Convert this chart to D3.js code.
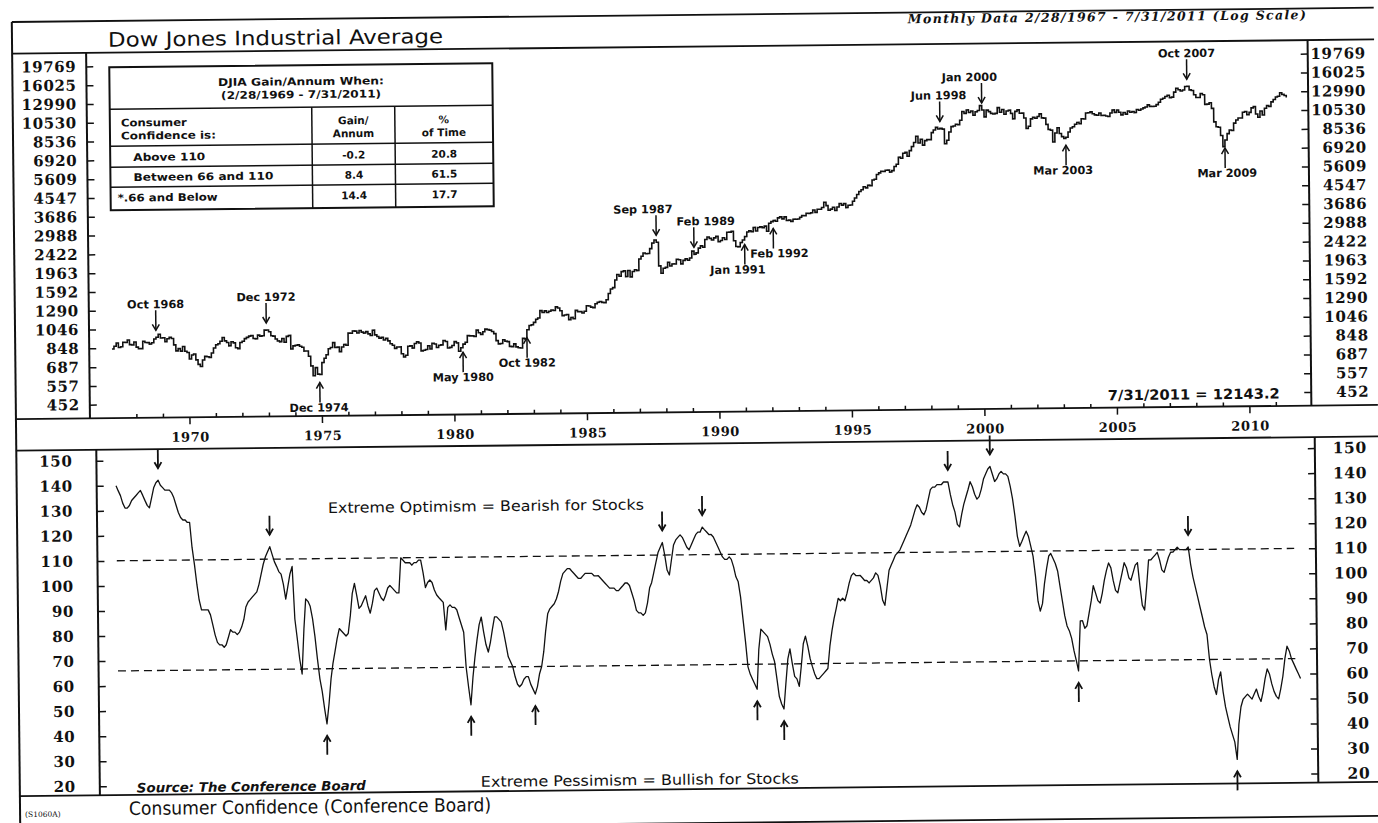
<!DOCTYPE html>
<html>
<head>
<meta charset="utf-8">
<title>Dow Jones Industrial Average vs Consumer Confidence</title>
<script src="https://cdn.jsdelivr.net/npm/d3@7/dist/d3.min.js"></script>
<style>
  body { margin: 0; background: #fff; }
  svg { display: block; }
</style>
</head>
<body>
<svg id="chart" width="1378" height="823"></svg>
<script>
// ---- data: monthly values, Feb 1967 .. Jul 2011 ----
const firstMonth = new Date(1967, 1, 1);

const djiaClose = [
  839, 865, 897, 853, 860, 904, 901, 927, 880, 876, 905,                 // 1967 (Feb-Dec)
  855, 840, 840, 912, 899, 898, 883, 896, 935, 952, 985, 944,            // 1968
  946, 905, 936, 950, 937, 873, 816, 837, 813, 856, 812, 800,            // 1969
  744, 778, 786, 736, 700, 684, 735, 765, 761, 756, 794, 839,            // 1970
  869, 879, 904, 942, 908, 891, 858, 898, 887, 839, 831, 890,            // 1971
  902, 928, 941, 954, 961, 929, 925, 964, 953, 956, 1018, 1020,          // 1972
  999, 955, 951, 921, 901, 892, 926, 888, 947, 957, 822, 851,            // 1973
  856, 860, 847, 837, 802, 802, 757, 679, 608, 666, 619, 616,            // 1974
  704, 739, 768, 821, 832, 879, 832, 835, 794, 836, 860, 852,            // 1975
  975, 973, 999, 997, 975, 1003, 985, 974, 990, 965, 947, 1005,          // 1976
  954, 936, 919, 926, 899, 916, 890, 862, 847, 818, 830, 831,            // 1977
  770, 742, 757, 837, 840, 819, 862, 877, 866, 793, 799, 805,            // 1978
  839, 809, 862, 855, 822, 842, 846, 888, 878, 816, 822, 839,            // 1979
  876, 863, 786, 817, 851, 868, 935, 933, 932, 925, 993, 964,            // 1980
  947, 975, 1004, 998, 992, 977, 953, 882, 850, 853, 889, 875,           // 1981
  871, 825, 823, 848, 820, 812, 809, 901, 896, 992, 1039, 1047,          // 1982
  1076, 1113, 1130, 1226, 1200, 1222, 1199, 1216, 1233, 1225, 1276, 1259, // 1983
  1221, 1155, 1165, 1171, 1105, 1132, 1115, 1224, 1207, 1207, 1189, 1212, // 1984
  1287, 1284, 1267, 1258, 1315, 1336, 1348, 1334, 1329, 1374, 1472, 1547, // 1985
  1571, 1710, 1819, 1784, 1877, 1893, 1775, 1898, 1768, 1878, 1914, 1896, // 1986
  2158, 2224, 2305, 2286, 2292, 2419, 2572, 2663, 2596, 1994, 1834, 1939, // 1987
  1958, 2072, 1988, 2033, 2031, 2142, 2129, 2032, 2113, 2149, 2115, 2169, // 1988
  2342, 2258, 2294, 2419, 2480, 2440, 2661, 2737, 2693, 2645, 2706, 2753, // 1989
  2591, 2627, 2707, 2657, 2877, 2881, 2905, 2615, 2453, 2442, 2560, 2634, // 1990
  2736, 2882, 2914, 2888, 3028, 2907, 3025, 3044, 3017, 3069, 2895, 3169, // 1991
  3224, 3267, 3236, 3359, 3397, 3319, 3394, 3257, 3272, 3226, 3305, 3301, // 1992
  3310, 3371, 3435, 3428, 3527, 3516, 3540, 3651, 3555, 3681, 3684, 3754, // 1993
  3978, 3832, 3636, 3682, 3758, 3625, 3765, 3913, 3843, 3908, 3739, 3834, // 1994
  3844, 4011, 4158, 4321, 4465, 4556, 4709, 4647, 4789, 4756, 5075, 5117, // 1995
  5395, 5486, 5588, 5569, 5643, 5655, 5529, 5616, 5882, 6029, 6522, 6448, // 1996
  6813, 6878, 6584, 7009, 7331, 7673, 8223, 7622, 7945, 7442, 7823, 7908, // 1997
  7907, 8546, 8800, 9063, 8900, 8952, 8883, 7539, 7843, 8592, 9117, 9181, // 1998
  9359, 9307, 9786, 10789, 10560, 10971, 10655, 10829, 10337, 10729, 10878, 11497, // 1999
  10941, 10128, 10922, 10734, 10522, 10448, 10522, 11215, 10651, 10971, 10415, 10787, // 2000
  10887, 10495, 9879, 10735, 10912, 10502, 10523, 9950, 8848, 9075, 9852, 10022, // 2001
  9920, 10106, 10404, 9946, 9925, 9243, 8737, 8664, 7592, 8397, 8896, 8342,  // 2002
  8054, 7891, 7992, 8480, 8850, 8985, 9234, 9416, 9275, 9801, 9782, 10454,   // 2003
  10488, 10584, 10358, 10226, 10188, 10435, 10140, 10174, 10080, 10027, 10428, 10783, // 2004
  10490, 10766, 10504, 10193, 10467, 10275, 10641, 10482, 10569, 10440, 10806, 10718, // 2005
  10865, 10993, 11109, 11367, 11168, 11150, 11186, 11381, 11679, 12081, 12222, 12463, // 2006
  12622, 12269, 12354, 13063, 13628, 13409, 13212, 13358, 13896, 13930, 13372, 13265, // 2007
  12650, 12266, 12263, 12820, 12638, 11350, 11378, 11544, 10851, 9325, 8829, 8776,   // 2008
  8001, 7063, 7609, 8168, 8500, 8447, 9172, 9496, 9712, 9713, 10345, 10428,  // 2009
  10067, 10325, 10857, 11009, 10137, 9774, 10466, 10015, 10788, 11118, 11006, 11578, // 2010
  11892, 12226, 12320, 12811, 12570, 12414, 12143                          // 2011 (Jan-Jul)
];

const confidence = [
  140, 138, 136, 133, 131, 131, 132, 134, 135, 136, 137,      // 1967 (Feb-Dec)
  138, 136, 134, 132, 131, 135, 139, 141, 142, 140, 139, 138, // 1968
  138, 138, 137, 135, 132, 129, 127, 126, 126, 125, 125, 115, // 1969
  108, 100, 94, 90, 90, 90, 90, 88, 84, 80, 77, 76,           // 1970
  76, 75, 76, 79, 82, 81, 81, 80, 81, 83, 86, 91,             // 1971
  93, 94, 95, 96, 97, 100, 104, 108, 111, 113, 115, 112,      // 1972
  109, 107, 105, 104, 100, 94, 99, 104, 107, 86, 78, 70,      // 1973
  64, 82, 94, 93, 91, 86, 79, 70, 62, 57, 50, 44,             // 1974
  52, 62, 68, 73, 78, 82, 81, 80, 79, 80, 87, 96,             // 1975
  100, 95, 90, 91, 93, 95, 91, 88, 92, 97, 98, 96,            // 1976
  94, 93, 95, 98, 99, 98, 97, 96, 96, 110, 109, 108,          // 1977
  108, 108, 107, 108, 108, 109, 109, 104, 98, 100, 101, 100,  // 1978
  97, 95, 94, 93, 92, 81, 90, 91, 90, 90, 89, 86,             // 1979
  83, 80, 66, 58, 51, 62, 70, 77, 83, 86, 80, 75,             // 1980
  72, 76, 81, 86, 86, 85, 84, 80, 75, 70, 68, 66,             // 1981
  62, 59, 58, 59, 61, 62, 62, 59, 57, 55, 58, 63,             // 1982
  66, 72, 80, 87, 89, 90, 91, 93, 96, 100, 103, 104,          // 1983
  105, 105, 104, 103, 102, 101, 101, 102, 103, 103, 103, 103, // 1984
  102, 102, 102, 101, 100, 99, 98, 97, 97, 97, 96, 96,        // 1985
  97, 98, 99, 99, 98, 95, 92, 88, 87, 87, 86, 87,             // 1986
  91, 97, 99, 103, 107, 111, 113, 115, 110, 104, 102, 108,    // 1987
  114, 116, 117, 118, 117, 115, 113, 112, 114, 116, 118, 119, // 1988
  119, 121, 120, 119, 118, 118, 117, 115, 113, 111, 109, 108, // 1989
  108, 109, 108, 105, 101, 99, 93, 84, 75, 65, 62, 60,        // 1990
  58, 56, 72, 80, 79, 78, 77, 74, 70, 67, 60, 53,             // 1991
  50, 48, 58, 68, 72, 66, 61, 60, 57, 65, 74, 77,             // 1992
  73, 68, 65, 62, 60, 60, 61, 62, 63, 64, 73, 79,             // 1993
  84, 88, 92, 91, 92, 91, 94, 98, 101, 102, 101, 101,         // 1994
  101, 100, 99, 99, 98, 99, 100, 102, 101, 97, 91, 89,        // 1995
  96, 103, 105, 107, 109, 110, 111, 113, 115, 117, 119, 121,  // 1996
  124, 127, 129, 128, 126, 125, 127, 131, 135, 136, 136, 137, // 1997
  137, 137, 138, 138, 138, 133, 129, 126, 121, 120, 125, 129, // 1998
  132, 135, 138, 136, 133, 131, 132, 135, 139, 141, 143, 144, // 1999
  141, 138, 139, 141, 142, 141, 141, 140, 136, 131, 124, 116, // 2000
  112, 114, 116, 118, 116, 112, 108, 100, 90, 86, 89, 97,     // 2001
  103, 108, 109, 107, 105, 102, 96, 90, 84, 80, 78, 75,       // 2002
  70, 66, 62, 82, 82, 79, 80, 85, 90, 96, 93, 90,             // 2003
  89, 93, 98, 102, 105, 103, 98, 94, 93, 97, 101, 105,        // 2004
  103, 99, 98, 101, 104, 105, 96, 88, 86, 95, 106, 106,       // 2005
  107, 108, 109, 106, 102, 101, 104, 107, 109, 109, 110, 111, // 2006
  110, 110, 110, 110, 111, 104, 99, 95, 91, 87, 83, 79,       // 2007
  76, 66, 60, 55, 52, 58, 61, 53, 47, 43, 39, 36,             // 2008
  33, 26, 40, 47, 50, 51, 52, 51, 50, 52, 54, 51,             // 2009
  49, 53, 58, 62, 60, 56, 53, 51, 50, 54, 59, 66,             // 2010
  71, 69, 66, 64, 62, 60, 58                                  // 2011 (Jan-Jul)
];

const djiaTicks = [452, 557, 687, 848, 1046, 1290, 1592, 1963, 2422, 2988, 3686,
                   4547, 5609, 6920, 8536, 10530, 12990, 16025, 19769];
const cciTicks = [20, 30, 40, 50, 60, 70, 80, 90, 100, 110, 120, 130, 140, 150];
const yearLabels = [1970, 1975, 1980, 1985, 1990, 1995, 2000, 2005, 2010];
const cciBands = [110, 66];

// turning points marked on both panels
const noteLabels = ["Oct 1968", "Dec 1972", "Dec 1974", "May 1980", "Oct 1982", "Sep 1987", "Feb 1989",
                    "Jan 1991", "Feb 1992", "Jun 1998", "Jan 2000", "Mar 2003", "Oct 2007", "Mar 2009"];
const noteMonths = ["1968-10", "1972-12", "1974-12", "1980-05", "1982-10", "1987-09", "1989-02",
                    "1991-01", "1992-02", "1998-06", "2000-01", "2003-03", "2007-10", "2009-03"];
const noteDirs = ["down", "down", "up", "up", "up", "down", "down",
                  "up", "up", "down", "down", "up", "down", "up"];
const cciSignalMonths = ["1968-09", "1972-11", "1974-12", "1980-05", "1982-10", "1987-08", "1989-02",
                         "1991-02", "1992-02", "1998-05", "1999-12", "2003-03", "2007-05", "2009-02"];

const tableTitle = ["DJIA Gain/Annum When:", "(2/28/1969 - 7/31/2011)"];
const tableHead = [["Consumer", "Confidence is:"], ["Gain/", "Annum"], ["%", "of Time"]];
const tableRows = ["Above 110", "Between 66 and 110", "*.66 and Below"];
const tableGain = ["-0.2", "8.4", "14.4"];
const tableTime = ["20.8", "61.5", "17.7"];

const titleTop = "Dow Jones Industrial Average";
const titleBottom = "Consumer Confidence (Conference Board)";
const subTitle = "Monthly Data 2/28/1967 - 7/31/2011 (Log Scale)";
const lastNote = "7/31/2011 = 12143.2";
const optimismNote = "Extreme Optimism = Bearish for Stocks";
const pessimismNote = "Extreme Pessimism = Bullish for Stocks";
const sourceNote = "Source: The Conference Board";
const chartCode = "(S1060A)";

// ---- layout ----
const W = 1378, H = 823;
const tilt = -0.6;           // the scanned page sits slightly askew
const ink = "#111";
const sansB = '"DejaVu Sans", sans-serif';
const serif = '"DejaVu Serif", serif';
const frame = { left: 16, right: 1378, top: 14.8, titleLine: 46.5, topBottom: 412, botTop: 443.5, botBottom: 789, bottom: 823 };
const axisX = { topL: 90, topR: 1311.5, botL: 96, botR: 1314.5 };

const xTop = d3.scaleTime().domain([new Date(1970, 0, 1), new Date(2010, 0, 1)]).range([190, 1250]);
const xBot = d3.scaleTime().domain([new Date(1970, 0, 1), new Date(2010, 0, 1)]).range([193, 1258]);
const yTop = d3.scaleLog().domain([452, 19769]).range([398.3, 60]);
const yBot = d3.scaleLinear().domain([20, 150]).range([780, 454.5]);

const months = djiaClose.map((d, i) => d3.timeMonth.offset(firstMonth, i));
function monthIndex(s) {
  const [y, m] = s.split("-").map(Number);
  return (y - firstMonth.getFullYear()) * 12 + (m - 1 - firstMonth.getMonth());
}

const svg = d3.select("#chart");
svg.append("rect").attr("width", W).attr("height", H).attr("fill", "#fff");
const g = svg.append("g").attr("transform", `rotate(${tilt},700,420)`);

// ---- frame ----
const hLines = [frame.top, frame.titleLine, frame.topBottom, frame.botTop, frame.botBottom, frame.bottom];
g.selectAll("line.h").data(hLines).join("line")
  .attr("x1", frame.left).attr("x2", frame.right)
  .attr("y1", d => d).attr("y2", d => d)
  .attr("stroke", ink).attr("stroke-width", 1.8);

const vLines = [
  [frame.left, frame.top, frame.bottom],
  [axisX.topL, frame.titleLine, frame.topBottom],
  [axisX.topR, frame.titleLine, frame.topBottom],
  [axisX.botL, frame.botTop, frame.botBottom],
  [axisX.botR, frame.botTop, frame.botBottom]
];
g.selectAll("line.v").data(vLines).join("line")
  .attr("x1", d => d[0]).attr("x2", d => d[0])
  .attr("y1", d => d[1]).attr("y2", d => d[2])
  .attr("stroke", ink).attr("stroke-width", 2);

// ---- axes ----
function styleAxis(sel, size, anchor, x) {
  sel.select(".domain").remove();
  sel.attr("font-family", serif).attr("font-weight", "bold").attr("font-size", size).attr("color", ink);
  sel.selectAll(".tick line").attr("stroke-width", 1.5);
  sel.selectAll(".tick text").attr("letter-spacing", 0.6);
  if (anchor) sel.selectAll(".tick text").attr("text-anchor", anchor).attr("x", x);
}

g.append("g").attr("transform", `translate(${axisX.topL},0)`)
  .call(d3.axisLeft(yTop).tickValues(djiaTicks).tickFormat(d3.format("d")).tickSize(-7).tickPadding(10))
  .call(s => styleAxis(s, 15));
g.append("g").attr("transform", `translate(${axisX.topR},0)`)
  .call(d3.axisRight(yTop).tickValues(djiaTicks).tickFormat(d3.format("d")).tickSize(-7))
  .call(s => styleAxis(s, 15, "end", 58));
g.append("g").attr("transform", `translate(${axisX.botL},0)`)
  .call(d3.axisLeft(yBot).tickValues(cciTicks).tickSize(-7).tickPadding(24))
  .call(s => styleAxis(s, 15));
g.append("g").attr("transform", `translate(${axisX.botR},0)`)
  .call(d3.axisRight(yBot).tickValues(cciTicks).tickSize(-7))
  .call(s => styleAxis(s, 15.5, "end", 52));

// year axis between the panels
g.append("g").attr("transform", `translate(0,${frame.topBottom})`)
  .call(d3.axisBottom(xTop).tickValues(yearLabels.map(y => new Date(y, 0, 1)))
    .tickFormat(d3.timeFormat("%Y")).tickSize(0).tickPadding(15))
  .call(s => styleAxis(s, 13));
const yearTicks = d3.timeYear.range(new Date(1968, 0, 1), new Date(2012, 0, 1));
g.selectAll("line.yt").data(yearTicks).join("line")
  .attr("x1", d => xTop(d)).attr("x2", d => xTop(d))
  .attr("y1", frame.topBottom)
  .attr("y2", d => d.getFullYear() % 5 === 0 ? frame.topBottom + 7 : frame.topBottom - 4)
  .attr("stroke", ink).attr("stroke-width", 1.5);

// ---- series ----
const djiaLine = d3.line().x((d, i) => xTop(months[i])).y(d => yTop(d)).curve(d3.curveStepAfter);
g.append("path").datum(djiaClose).attr("d", djiaLine)
  .attr("fill", "none").attr("stroke", ink).attr("stroke-width", 1.6);

g.selectAll("line.band").data(cciBands).join("line")
  .attr("x1", xBot(months[0])).attr("x2", xBot(months[months.length - 1]) - 5)
  .attr("y1", d => yBot(d)).attr("y2", d => yBot(d))
  .attr("stroke", ink).attr("stroke-width", 1.3).attr("stroke-dasharray", "8,5");

const cciLine = d3.line().x((d, i) => xBot(months[i])).y(d => yBot(d));
g.append("path").datum(confidence).attr("d", cciLine)
  .attr("fill", "none").attr("stroke", ink).attr("stroke-width", 1.3).attr("stroke-linejoin", "round");

// ---- arrows and labels ----
function arrow(sel, x, tip, dir, len, width) {
  const s = dir === "down" ? -1 : 1;
  sel.append("line").attr("x1", x).attr("x2", x).attr("y1", tip + s * len).attr("y2", tip)
    .attr("stroke", ink).attr("stroke-width", width);
  sel.append("path").attr("d", `M${x - 3.5},${tip + s * 6}L${x},${tip}L${x + 3.5},${tip + s * 6}`)
    .attr("fill", "none").attr("stroke", ink).attr("stroke-width", width);
}
const noteDx = [0, 0, -1, 0, 0, -13, 12, -7, 6, -1, -12, -3, 0, 2];
const notes = g.append("g");
noteLabels.forEach((label, i) => {
  const m = monthIndex(noteMonths[i]);
  const x = xTop(months[m]);
  const down = noteDirs[i] === "down";
  const tip = down ? yTop(djiaClose[m]) - 7 : yTop(djiaClose[m]) + 8;
  arrow(notes, x, tip, noteDirs[i], 20, 1.5);
  notes.append("text").attr("x", x + noteDx[i]).attr("y", down ? tip - 22 : tip + 29)
    .attr("text-anchor", "middle").attr("font-family", sansB).attr("font-weight", "bold")
    .attr("font-size", 11.3).attr("fill", ink).text(label);

  const c = monthIndex(cciSignalMonths[i]);
  const cx = xBot(months[c]);
  const ctip = down ? yBot(confidence[c]) - 12 : yBot(confidence[c]) + 12;
  arrow(notes, cx, ctip, noteDirs[i], 19, 1.8);
});

// ---- text ----
function label(txt, x, y, opts) {
  const t = g.append("text").attr("x", x).attr("y", y).attr("fill", ink)
    .attr("font-family", opts.family || sansB).attr("font-size", opts.size)
    .attr("font-weight", opts.weight || "normal").attr("font-style", opts.style || "normal")
    .attr("text-anchor", opts.anchor || "start").text(txt);
  if (opts.len) t.attr("textLength", opts.len).attr("lengthAdjust", opts.adjust || "spacingAndGlyphs");
  return t;
}
label(titleTop, 112, 40.5, { size: 20, len: 335 });
label(subTitle, 912, 25.5, { family: serif, size: 12.5, weight: "bold", style: "italic", len: 398, adjust: "spacing" });
label(lastNote, 1108, 404.5, { size: 14, weight: "bold", len: 172 });
label(optimismNote, 327, 509, { size: 14.5, len: 316 });
label(pessimismNote, 477, 784.5, { size: 14.5, len: 318 });
label(sourceNote, 133, 786.5, { size: 13, weight: "bold", style: "italic", len: 229 });
label(titleBottom, 125, 809, { size: 18.5, len: 362 });
label(chartCode, 21, 810, { family: serif, size: 7.5 });

// ---- summary table ----
const tb = { x0: 113, x1: 315, x2: 398, x3: 496, rows: [61, 103, 140, 161, 181, 204] };
const table = g.append("g");
table.append("rect").attr("x", tb.x0).attr("y", tb.rows[0])
  .attr("width", tb.x3 - tb.x0).attr("height", tb.rows[5] - tb.rows[0])
  .attr("fill", "#fff").attr("stroke", ink).attr("stroke-width", 2);
tb.rows.slice(1, 5).forEach(y => table.append("line")
  .attr("x1", tb.x0).attr("x2", tb.x3).attr("y1", y).attr("y2", y)
  .attr("stroke", ink).attr("stroke-width", 1.5));
[tb.x1, tb.x2].forEach(x => table.append("line")
  .attr("x1", x).attr("x2", x).attr("y1", tb.rows[1]).attr("y2", tb.rows[5])
  .attr("stroke", ink).attr("stroke-width", 1.5));

function cell(txt, x, y, anchor, len) {
  const t = table.append("text").attr("x", x).attr("y", y).attr("text-anchor", anchor)
    .attr("font-family", sansB).attr("font-weight", "bold").attr("font-size", 10.5)
    .attr("fill", ink).text(txt);
  if (len) t.attr("textLength", len).attr("lengthAdjust", "spacingAndGlyphs");
}
const midTop = (tb.x0 + tb.x3) / 2, mid2 = (tb.x1 + tb.x2) / 2, mid3 = (tb.x2 + tb.x3) / 2;
cell(tableTitle[0], midTop, 81, "middle", 166);
cell(tableTitle[1], midTop, 94, "middle", 160);
cell(tableHead[0][0], 124, 120.5, "start", 66);
cell(tableHead[0][1], 124, 133.5, "start", 95);
cell(tableHead[1][0], mid2, 120.5, "middle");
cell(tableHead[1][1], mid2, 133.5, "middle");
cell(tableHead[2][0], mid3, 120.5, "middle");
cell(tableHead[2][1], mid3, 133.5, "middle");
const rowBase = [155, 175, 195.5];
const rowX = [136, 136, 120];
const rowLen = [72, 140, 100];
tableRows.forEach((r, i) => {
  cell(r, rowX[i], rowBase[i], "start", rowLen[i]);
  cell(tableGain[i], mid2, rowBase[i], "middle");
  cell(tableTime[i], mid3, rowBase[i], "middle");
});
</script>
</body>
</html>
